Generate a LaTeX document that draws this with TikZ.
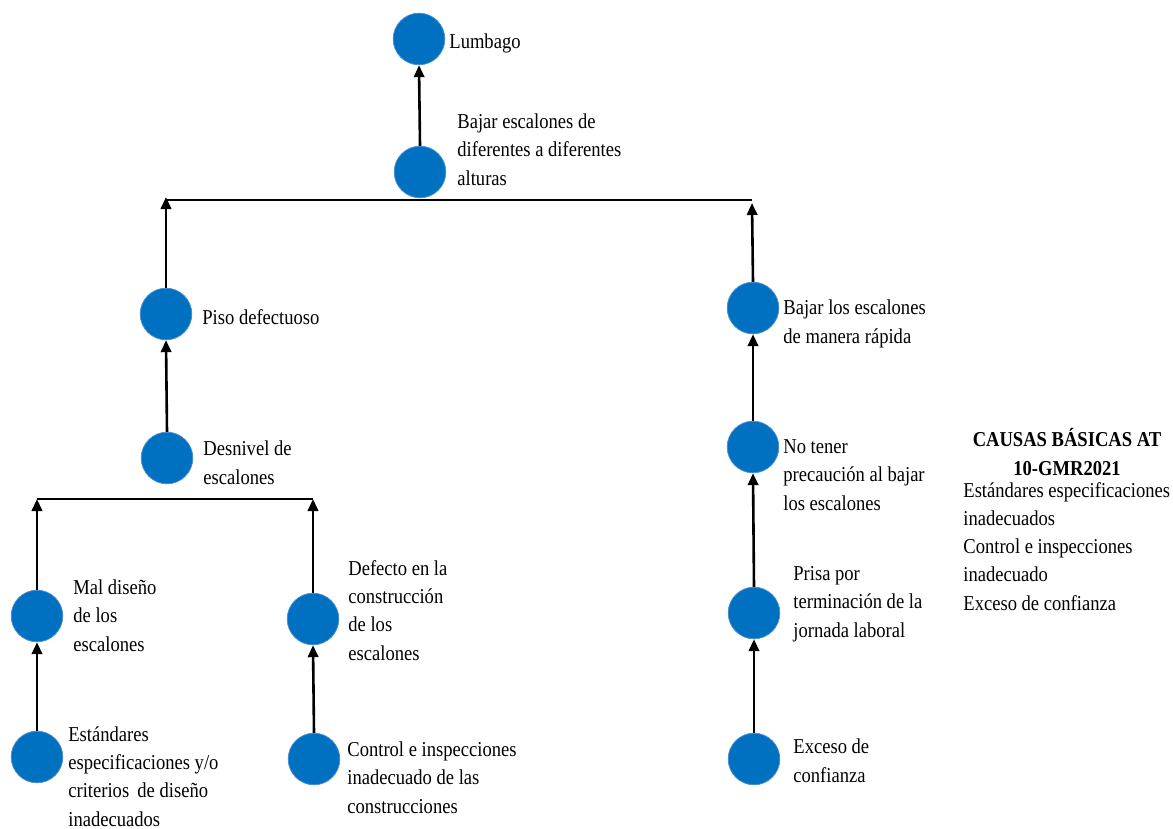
\documentclass[tikz,border=0pt]{standalone}
\usepackage{fontspec}
\setmainfont{Liberation Serif}[FakeStretch=0.876]
\usetikzlibrary{arrows.meta}
\definecolor{nodeblue}{HTML}{0070C0}
\definecolor{rimblue}{HTML}{4A8FD0}
\begin{document}
\begin{tikzpicture}[x=0.5pt,y=-0.5pt,
  dot/.style={circle,fill=nodeblue,draw=rimblue,line width=0.4pt,minimum size=25.8pt,inner sep=0pt},
  lbl/.style={anchor=base west,align=left,inner sep=0pt,font=\fontsize{10.6}{14.1}\selectfont},
  arr/.style={line width=1.3pt,-{Triangle[width=5.2pt,length=6pt]}},
  bar/.style={line width=1.3pt}]
\useasboundingbox[fill=white] (0,0) rectangle (1173,829);
% circles
\node[dot] (c1) at (419,39) {};
\node[dot] (c2) at (420,172) {};
\node[dot] (c3) at (166,314) {};
\node[dot] (c4) at (167,458) {};
\node[dot] (c5) at (37,616) {};
\node[dot] (c6) at (313,619) {};
\node[dot] (c7) at (37,757) {};
\node[dot] (c8) at (314,759) {};
\node[dot] (c9) at (753,308) {};
\node[dot] (c10) at (753,447) {};
\node[dot] (c11) at (754,613) {};
\node[dot] (c12) at (754,759) {};
% labels (anchored at the baseline of their last line)
\node[lbl] (t1) at (449,49) {Lumbago};
\node[lbl] (t2) at (457,185) {Bajar escalones de\\diferentes a diferentes\\alturas};
\node[lbl] (t3) at (202,324) {Piso defectuoso};
\node[lbl] (t4) at (203,484) {Desnivel de\\escalones};
\node[lbl] (t5) at (73,651) {Mal diseño\\de los\\escalones};
\node[lbl] (t6) at (348,660) {Defecto en la\\construcción\\de los\\escalones};
\node[lbl] (t7) at (68,826) {Estándares\\especificaciones y/o\\criterios\, de diseño\\inadecuados};
\node[lbl] (t8) at (347,813) {Control e inspecciones\\inadecuado de las\\construcciones};
\node[lbl] (t9) at (783,343) {Bajar los escalones\\de manera rápida};
\node[lbl] (t10) at (783,510) {No tener\\precaución al bajar\\los escalones};
\node[lbl] (t11) at (793,637) {Prisa por\\terminación de la\\jornada laboral};
\node[lbl] (t12) at (793,782) {Exceso de\\confianza};
\node[lbl,anchor=base,align=center,font=\fontsize{10.6}{14.1}\selectfont\bfseries] (head) at (1067,475) {CAUSAS BÁSICAS AT\\10-GMR2021};
\node[lbl] (list) at (963,610) {Estándares especificaciones\\inadecuados\\Control e inspecciones\\inadecuado\\Exceso de confianza};
% junctions
\coordinate (jL) at (166,200);
\coordinate (jR) at (752,200);
\coordinate (kL) at (37,499);
\coordinate (kR) at (313,499);
% connectors
\draw[arr] (c2.north) -- (c1.south);
\draw[bar] (jL) -- (jR);
\draw[arr] (c3.north) -- ([yshift=1.5]jL);
\draw[arr] (c9.north) -- ([yshift=-1.5]jR);
\draw[arr] (c4.north) -- (c3.south);
\draw[bar] (kL) -- (kR);
\draw[arr] (c5.north) -- (kL);
\draw[arr] (c6.north) -- (kR);
\draw[arr] (c7.north) -- (c5.south);
\draw[arr] (c8.north) -- (c6.south);
\draw[arr] (c10.north) -- (c9.south);
\draw[arr] (c11.north) -- (c10.south);
\draw[arr] (c12.north) -- (c11.south);
\end{tikzpicture}
\end{document}
